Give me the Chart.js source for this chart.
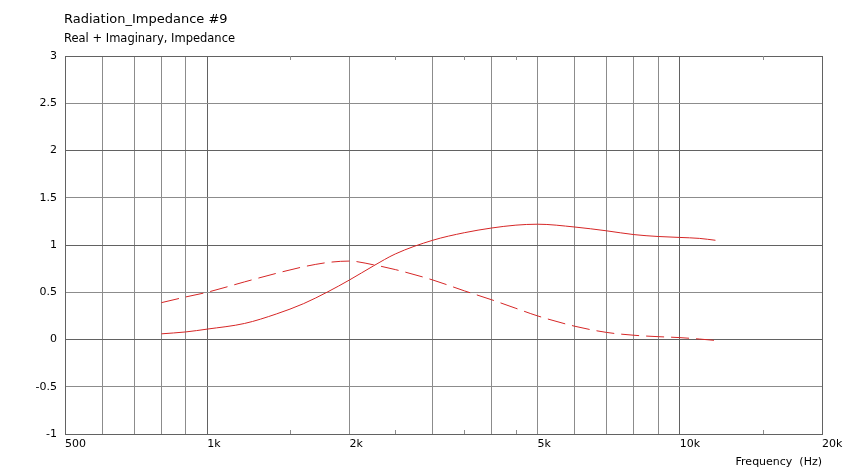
<!DOCTYPE html>
<html lang="en">
<head>
<meta charset="UTF-8">
<title>Radiation_Impedance #9</title>
<script src="https://cdn.jsdelivr.net/npm/chart.js"></script>
<style>
  body { margin: 0; background: #fff; }
  #wrap { width: 844px; height: 469px; position: relative; }
</style>
</head>
<body>
<div id="wrap"><canvas id="impChart"></canvas></div>
<script>
// frequencies (Hz) and the two curves
const freqs = [800, 900, 1000, 1200, 1400, 1600, 1800, 2000, 2250, 2500, 3000, 3500, 4000, 4500, 5000, 6000, 7000, 8000, 9000, 10000, 11000, 11900];
const realPart = [0.06, 0.08, 0.11, 0.17, 0.27, 0.38, 0.505, 0.63, 0.78, 0.905, 1.05, 1.13, 1.18, 1.21, 1.22, 1.19, 1.15, 1.11, 1.09, 1.08, 1.07, 1.05];
const imagPart = [0.39, 0.45, 0.50, 0.61, 0.70, 0.77, 0.815, 0.83, 0.79, 0.74, 0.63, 0.515, 0.42, 0.33, 0.25, 0.14, 0.075, 0.045, 0.03, 0.02, 0.005, -0.01];

const xGridValues = [500, 600, 700, 800, 900, 1000, 2000, 3000, 4000, 5000, 6000, 7000, 8000, 9000, 10000, 20000];
const xMinorValues = [1500, 2500, 3500, 4500, 15000];
const xTickLabels = { 500: '500', 1000: '1k', 2000: '2k', 5000: '5k', 10000: '10k', 20000: '20k' };
const yTicks = [-1, -0.5, 0, 0.5, 1, 1.5, 2, 2.5, 3];

const FONT = '"DejaVu Sans", Verdana, sans-serif';
const lineRed = 'rgb(214, 38, 38)';
const gridLight = '#8c8c8c';
const gridDark = '#626262';

const pts = arr => freqs.map((f, i) => ({ x: f, y: arr[i] }));

// titles, minor ticks
const extras = {
    id: 'extras',
    afterDraw(chart) {
        const c = chart.ctx;
        const area = chart.chartArea;
        const xs = chart.scales.x;
        c.save();
        c.fillStyle = '#000';
        c.textBaseline = 'middle';
        c.textAlign = 'left';
        c.font = '13px ' + FONT;
        c.fillText('Radiation_Impedance #9', area.left - 1, 20);
        c.font = '11.5px ' + FONT;
        c.fillText('Real + Imaginary, Impedance', area.left - 1, 39);

        c.strokeStyle = gridLight;
        c.lineWidth = 1;
        xMinorValues.forEach(v => {
            const px = Math.round(xs.getPixelForValue(v)) + 0.5;
            c.beginPath();
            c.moveTo(px, area.top);
            c.lineTo(px, area.top + 4);
            c.moveTo(px, area.bottom);
            c.lineTo(px, area.bottom - 4);
            c.stroke();
        });
        c.restore();
    }
};

new Chart(document.getElementById('impChart'), {
    type: 'line',
    data: {
        datasets: [
            { label: 'Real', data: pts(realPart), borderColor: lineRed, borderWidth: 1, pointRadius: 0, cubicInterpolationMode: 'monotone', fill: false },
            { label: 'Imaginary', data: pts(imagPart), borderColor: lineRed, borderWidth: 1, borderDash: [18, 7], pointRadius: 0, cubicInterpolationMode: 'monotone', fill: false }
        ]
    },
    options: {
        responsive: true,
        maintainAspectRatio: false,
        animation: false,
        layout: { padding: { top: 56, right: 22, left: 0, bottom: 0 } },
        plugins: { legend: { display: false }, tooltip: { enabled: false } },
        scales: {
            x: {
                type: 'logarithmic',
                min: 500,
                max: 20000,
                afterBuildTicks: s => { s.ticks = xGridValues.map(v => ({ value: v })); },
                afterFit: s => { s.height = 35; s.paddingRight = 0; s.paddingLeft = 0; },
                ticks: {
                    autoSkip: false,
                    maxRotation: 0,
                    align: 'start',
                    padding: 4,
                    color: '#000',
                    font: { family: FONT, size: 11 },
                    callback: v => xTickLabels[v] || ''
                },
                grid: {
                    drawTicks: false,
                    color: ctx => {
                        const v = ctx.tick && ctx.tick.value;
                        if (v === 500) return 'rgba(0,0,0,0)';
                        return (v === 1000 || v === 10000 || v === 20000) ? gridDark : gridLight;
                    }
                },
                border: { color: gridDark },
                title: {
                    display: true,
                    text: 'Frequency  (Hz)',
                    align: 'end',
                    color: '#000',
                    font: { family: FONT, size: 11 },
                    padding: { top: 2, bottom: 0 }
                }
            },
            y: {
                min: -1,
                max: 3,
                afterBuildTicks: s => { s.ticks = yTicks.map(v => ({ value: v })); },
                afterFit: s => { s.width = 65; },
                ticks: {
                    padding: 8,
                    color: '#000',
                    font: { family: FONT, size: 11 },
                    callback: v => String(v)
                },
                grid: {
                    drawTicks: false,
                    color: ctx => {
                        const v = ctx.tick && ctx.tick.value;
                        if (v === -1) return 'rgba(0,0,0,0)';
                        return Number.isInteger(v) ? gridDark : gridLight;
                    }
                },
                border: { color: gridDark }
            }
        }
    },
    plugins: [extras]
});
</script>
</body>
</html>
